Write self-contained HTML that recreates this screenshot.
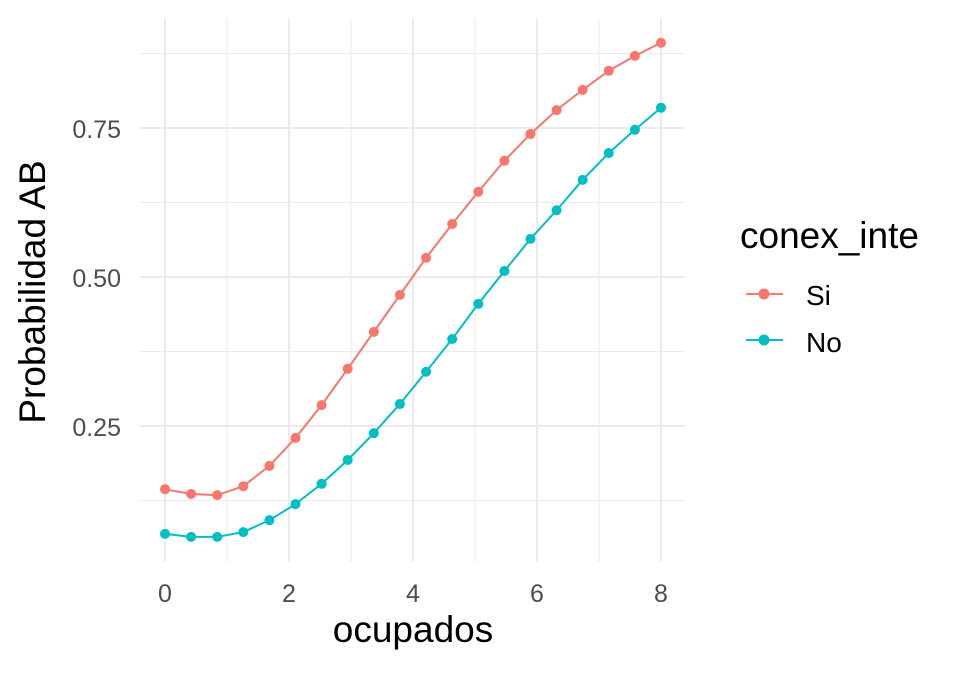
<!DOCTYPE html>
<html><head><meta charset="utf-8"><style>
body{margin:0;background:#fff;}
svg text{font-family:"Liberation Sans",Arial,sans-serif;}
</style></head><body>
<svg id="chart" width="960" height="672" xmlns="http://www.w3.org/2000/svg">
<g id="grid"></g>
<g id="series"></g>
<g id="axes"></g>
<text x="413" y="642" font-size="37" text-anchor="middle" fill="#000">ocupados</text>
<text transform="translate(45,292) rotate(-90)" font-size="37" text-anchor="middle" fill="#000">Probabilidad AB</text>
<g>
<text x="740" y="248" font-size="37" fill="#000">conex_inte</text>
<g>
<line x1="746" y1="294" x2="783" y2="294" stroke="#F8766D" stroke-width="2"/><circle cx="764" cy="294" r="5.5" fill="#F8766D"/>
<text x="806" y="305" font-size="28" fill="#000">Si</text></g>
<g>
<line x1="746" y1="340" x2="783" y2="340" stroke="#00BFC4" stroke-width="2"/><circle cx="764" cy="340" r="5.5" fill="#00BFC4"/>
<text x="806" y="352" font-size="28" fill="#000">No</text></g>
</g>
</svg>
<script>
const xValues=[0,0.421,0.842,1.263,1.684,2.105,2.526,2.947,3.368,3.789,4.211,4.632,5.053,5.474,5.895,6.316,6.737,7.158,7.579,8];
const siValues=[0.144,0.136,0.134,0.149,0.183,0.230,0.285,0.346,0.408,0.470,0.532,0.589,0.643,0.695,0.740,0.780,0.814,0.846,0.871,0.893];
const noValues=[0.069,0.064,0.064,0.072,0.092,0.119,0.153,0.193,0.238,0.287,0.341,0.396,0.455,0.510,0.564,0.612,0.663,0.708,0.747,0.784];
const xTicks=[0,2,4,6,8];
const yTicks=[0.25,0.5,0.75];
const yTickLabels=["0.25","0.50","0.75"];
const xMinor=[1,3,5,7];
const yMinor=[0.125,0.375,0.625,0.875];
const NS="http://www.w3.org/2000/svg";
const PL=140,PR=685,PT=18,PB=562;
function sx(v){return 165+v*62;}
function sy(v){return 277-(v-0.5)*596;}
function mk(tag,attrs,parent){const e=document.createElementNS(NS,tag);for(const k in attrs)e.setAttribute(k,attrs[k]);parent.appendChild(e);return e;}
const grid=document.getElementById('grid'),axes=document.getElementById('axes'),ser=document.getElementById('series');
yMinor.forEach(v=>{const y=sy(v);if(y<PT)return;const l=mk('line',{x1:PL,x2:PR,y1:y,y2:y,stroke:'#ebebeb','stroke-width':1},grid);

});
xMinor.forEach(v=>{const l=mk('line',{x1:sx(v),x2:sx(v),y1:PT,y2:PB,stroke:'#ebebeb','stroke-width':1},grid);

});
yTicks.forEach((v,i)=>{const l=mk('line',{x1:PL,x2:PR,y1:sy(v),y2:sy(v),stroke:'#ebebeb','stroke-width':2},grid);


const t=mk('text',{x:121,y:sy(v)+10,'font-size':25,'text-anchor':'end',fill:'#4d4d4d'},axes);t.textContent=yTickLabels[i];

});
xTicks.forEach(v=>{const l=mk('line',{x1:sx(v),x2:sx(v),y1:PT,y2:PB,stroke:'#ebebeb','stroke-width':2},grid);


const t=mk('text',{x:sx(v),y:602,'font-size':25,'text-anchor':'middle',fill:'#4d4d4d'},axes);t.textContent=String(v);

});
function drawSeries(vals,color,name){
const g=mk('g',{},ser);


const p=mk('polyline',{points:vals.map((v,i)=>sx(xValues[i])+','+sy(v)).join(' '),fill:'none',stroke:color,'stroke-width':2},g);


vals.forEach((v,i)=>{const c=mk('circle',{cx:sx(xValues[i]),cy:sy(v),r:5,fill:color},g);

});
}
drawSeries(siValues,'#F8766D','si');
drawSeries(noValues,'#00BFC4','no');
</script>
</body></html>
